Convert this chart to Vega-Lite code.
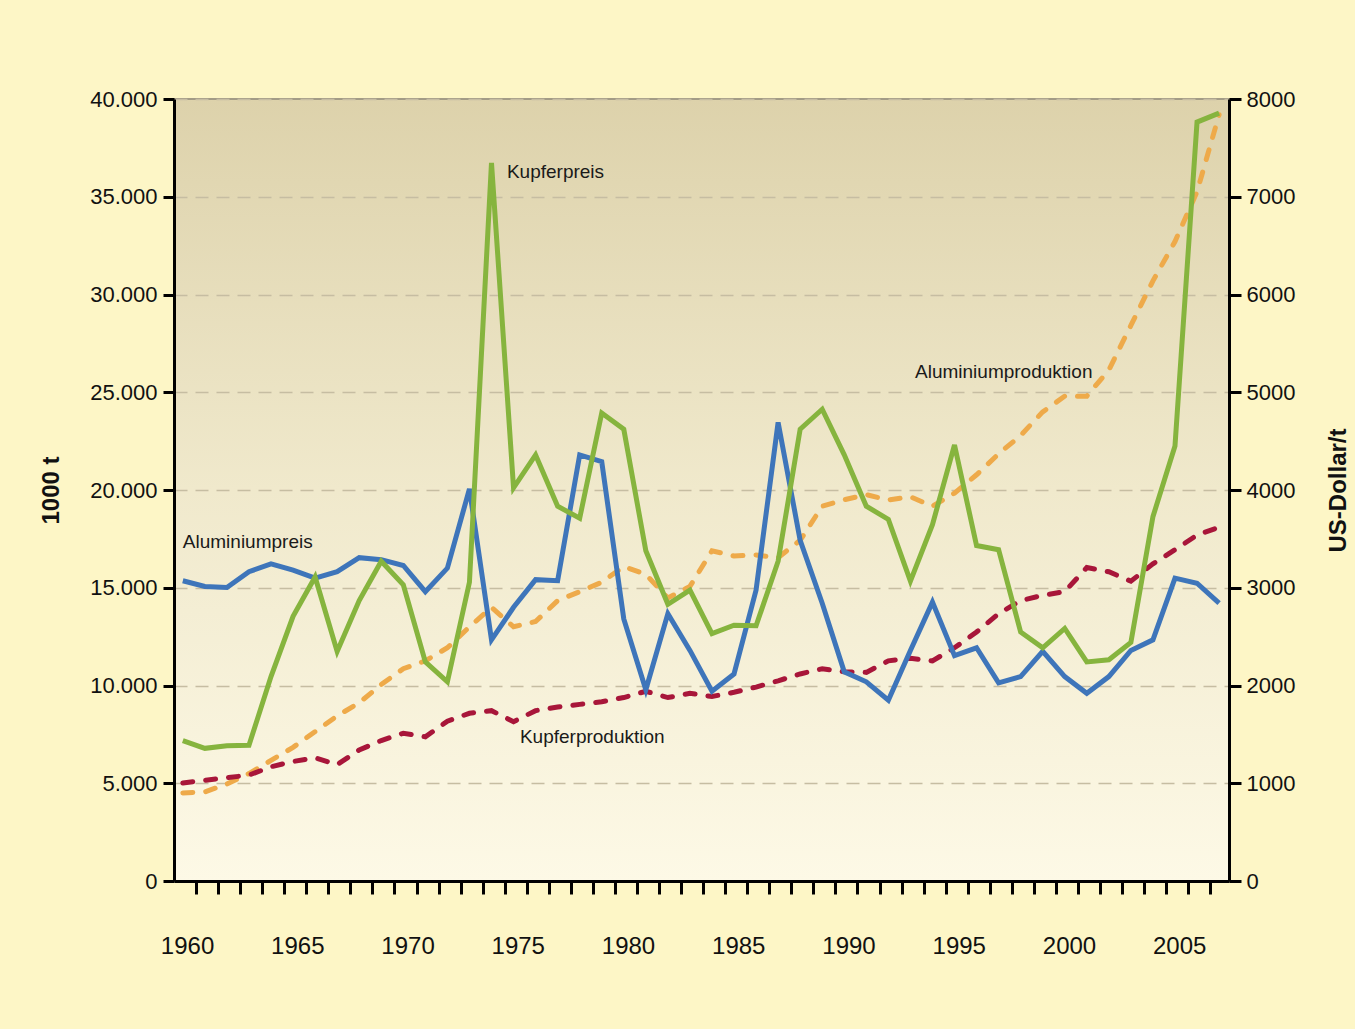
{
  "$schema": "https://vega.github.io/schema/vega-lite/v6.json",
  "width": 1055,
  "height": 782,
  "autosize": {"type": "none"},
  "padding": {"left": 174, "top": 99, "right": 126, "bottom": 148},
  "background": "#fdf6c6",
  "config": {
    "font": "Liberation Sans",
    "view": {
      "fill": {"gradient": "linear", "x1": 0, "y1": 0, "x2": 0, "y2": 1,
        "stops": [{"offset": 0, "color": "#ddd2ab"}, {"offset": 0.5, "color": "#f0e9cc"}, {"offset": 1, "color": "#fdf9e6"}]},
      "stroke": "#a39c86",
      "strokeWidth": 2
    },
    "axis": {
      "domainColor": "#000000",
      "domainWidth": 3,
      "tickColor": "#000000",
      "tickWidth": 3,
      "labelColor": "#111111",
      "titleColor": "#111111",
      "labelFontSize": 22,
      "titleFontSize": 24,
      "titleFontWeight": "bold"
    }
  },
  "data": {"values": [
    {"year": 1960, "ap": 3072, "kp": 1437, "aprod": 4504, "kprod": 5013},
    {"year": 1961, "ap": 3013, "kp": 1357, "aprod": 4558, "kprod": 5148},
    {"year": 1962, "ap": 3003, "kp": 1383, "aprod": 4960, "kprod": 5282},
    {"year": 1963, "ap": 3164, "kp": 1389, "aprod": 5496, "kprod": 5416},
    {"year": 1964, "ap": 3244, "kp": 2091, "aprod": 6166, "kprod": 5845},
    {"year": 1965, "ap": 3180, "kp": 2708, "aprod": 6837, "kprod": 6113},
    {"year": 1966, "ap": 3099, "kp": 3110, "aprod": 7641, "kprod": 6300},
    {"year": 1967, "ap": 3164, "kp": 2349, "aprod": 8445, "kprod": 5952},
    {"year": 1968, "ap": 3308, "kp": 2869, "aprod": 9115, "kprod": 6703},
    {"year": 1969, "ap": 3287, "kp": 3271, "aprod": 10054, "kprod": 7185},
    {"year": 1970, "ap": 3228, "kp": 3030, "aprod": 10858, "kprod": 7560},
    {"year": 1971, "ap": 2960, "kp": 2241, "aprod": 11260, "kprod": 7373},
    {"year": 1972, "ap": 3201, "kp": 2038, "aprod": 11930, "kprod": 8177},
    {"year": 1973, "ap": 4011, "kp": 3056, "aprod": 13003, "kprod": 8579},
    {"year": 1974, "ap": 2467, "kp": 7346, "aprod": 13995, "kprod": 8713},
    {"year": 1975, "ap": 2800, "kp": 4022, "aprod": 13003, "kprod": 8150},
    {"year": 1976, "ap": 3083, "kp": 4359, "aprod": 13271, "kprod": 8713},
    {"year": 1977, "ap": 3072, "kp": 3834, "aprod": 14343, "kprod": 8901},
    {"year": 1978, "ap": 4359, "kp": 3711, "aprod": 14799, "kprod": 9035},
    {"year": 1979, "ap": 4290, "kp": 4788, "aprod": 15282, "kprod": 9169},
    {"year": 1980, "ap": 2681, "kp": 4622, "aprod": 16086, "kprod": 9384},
    {"year": 1981, "ap": 1957, "kp": 3378, "aprod": 15684, "kprod": 9705},
    {"year": 1982, "ap": 2735, "kp": 2831, "aprod": 14477, "kprod": 9384},
    {"year": 1983, "ap": 2359, "kp": 2976, "aprod": 15067, "kprod": 9598},
    {"year": 1984, "ap": 1941, "kp": 2531, "aprod": 16890, "kprod": 9437},
    {"year": 1985, "ap": 2118, "kp": 2617, "aprod": 16622, "kprod": 9652},
    {"year": 1986, "ap": 2976, "kp": 2611, "aprod": 16676, "kprod": 9920},
    {"year": 1987, "ap": 4692, "kp": 3271, "aprod": 16542, "kprod": 10241},
    {"year": 1988, "ap": 3485, "kp": 4622, "aprod": 17427, "kprod": 10590},
    {"year": 1989, "ap": 2842, "kp": 4826, "aprod": 19169, "kprod": 10858},
    {"year": 1990, "ap": 2140, "kp": 4360, "aprod": 19500, "kprod": 10700},
    {"year": 1991, "ap": 2038, "kp": 3834, "aprod": 19759, "kprod": 10670},
    {"year": 1992, "ap": 1850, "kp": 3700, "aprod": 19491, "kprod": 11260},
    {"year": 1993, "ap": 2359, "kp": 3067, "aprod": 19652, "kprod": 11394},
    {"year": 1994, "ap": 2853, "kp": 3646, "aprod": 19169, "kprod": 11260},
    {"year": 1995, "ap": 2306, "kp": 4461, "aprod": 19839, "kprod": 11930},
    {"year": 1996, "ap": 2386, "kp": 3432, "aprod": 20778, "kprod": 12735},
    {"year": 1997, "ap": 2027, "kp": 3389, "aprod": 21850, "kprod": 13673},
    {"year": 1998, "ap": 2091, "kp": 2547, "aprod": 22789, "kprod": 14343},
    {"year": 1999, "ap": 2349, "kp": 2386, "aprod": 23995, "kprod": 14611},
    {"year": 2000, "ap": 2091, "kp": 2584, "aprod": 24799, "kprod": 14799},
    {"year": 2001, "ap": 1920, "kp": 2241, "aprod": 24799, "kprod": 16032},
    {"year": 2002, "ap": 2091, "kp": 2263, "aprod": 26140, "kprod": 15818},
    {"year": 2003, "ap": 2359, "kp": 2440, "aprod": 28419, "kprod": 15335},
    {"year": 2004, "ap": 2467, "kp": 3727, "aprod": 30697, "kprod": 16220},
    {"year": 2005, "ap": 3099, "kp": 4450, "aprod": 32708, "kprod": 16944},
    {"year": 2006, "ap": 3046, "kp": 7764, "aprod": 35255, "kprod": 17695},
    {"year": 2007, "ap": 2842, "kp": 7855, "aprod": 39196, "kprod": 18097}
  ]},
  "resolve": {"scale": {"y": "independent"}},
  "layer": [
    {
      "encoding": {
        "x": {"field": "year", "type": "quantitative",
          "scale": {"domain": [1959.6, 2007.45], "nice": false, "zero": false},
          "axis": {"title": null, "grid": false, "tickSize": 13, "labelPadding": 40, "labelFontSize": 24,
            "labelFlush": false, "labelOverlap": false, "labelBound": false, "labelOffset": -9,
            "values": [1960.6,1961.6,1962.6,1963.6,1964.6,1965.6,1966.6,1967.6,1968.6,1969.6,1970.6,1971.6,1972.6,1973.6,1974.6,1975.6,1976.6,1977.6,1978.6,1979.6,1980.6,1981.6,1982.6,1983.6,1984.6,1985.6,1986.6,1987.6,1988.6,1989.6,1990.6,1991.6,1992.6,1993.6,1994.6,1995.6,1996.6,1997.6,1998.6,1999.6,2000.6,2001.6,2002.6,2003.6,2004.6,2005.6,2006.6],
            "labelExpr": "round(datum.value - 0.6) % 5 == 0 ? toString(round(datum.value - 0.6)) : ''"}},
        "y": {"field": "value", "type": "quantitative",
          "scale": {"domain": [0, 40000], "nice": false},
          "axis": {"title": "1000 t", "orient": "left", "values": [0,5000,10000,15000,20000,25000,30000,35000,40000],
            "labelExpr": "replace(format(datum.value, ','), ',', '.')",
            "tickSize": 11, "labelPadding": 6, "titlePadding": 26,
            "grid": true, "gridColor": "#c6bda2", "gridDash": [13, 8], "gridWidth": 1.5}},
        "color": {"field": "series", "type": "nominal", "legend": null,
          "scale": {"domain": ["aprod", "kprod", "ap", "kp"], "range": ["#eeaa4a", "#a8163a", "#3e75ba", "#86b43e"]}}
      },
      "layer": [
        {
          "transform": [{"fold": ["aprod", "kprod"], "as": ["series", "value"]}],
          "mark": {"type": "line", "strokeWidth": 5, "strokeDash": [10, 13], "strokeCap": "round"}
        },
        {
          "data": {"values": [
            {"year": 1993.21, "value": 26035, "label": "Aluminiumproduktion"},
            {"year": 1975.29, "value": 7366, "label": "Kupferproduktion"}
          ]},
          "mark": {"type": "text", "align": "left", "baseline": "middle", "fontSize": 19, "color": "#1a1a1a"},
          "encoding": {"text": {"field": "label"}, "color": {"value": "#1a1a1a"}}
        }
      ]
    },
    {
      "encoding": {
        "x": {"field": "year", "type": "quantitative",
          "scale": {"domain": [1959.6, 2007.45], "nice": false, "zero": false},
          "axis": {"title": null, "grid": false, "tickSize": 13, "labelPadding": 40, "labelFontSize": 24,
            "labelFlush": false, "labelOverlap": false, "labelBound": false, "labelOffset": -9,
            "values": [1960.6,1961.6,1962.6,1963.6,1964.6,1965.6,1966.6,1967.6,1968.6,1969.6,1970.6,1971.6,1972.6,1973.6,1974.6,1975.6,1976.6,1977.6,1978.6,1979.6,1980.6,1981.6,1982.6,1983.6,1984.6,1985.6,1986.6,1987.6,1988.6,1989.6,1990.6,1991.6,1992.6,1993.6,1994.6,1995.6,1996.6,1997.6,1998.6,1999.6,2000.6,2001.6,2002.6,2003.6,2004.6,2005.6,2006.6],
            "labelExpr": "round(datum.value - 0.6) % 5 == 0 ? toString(round(datum.value - 0.6)) : ''"}},
        "y": {"field": "value", "type": "quantitative",
          "scale": {"domain": [0, 8000], "nice": false},
          "axis": {"title": "US-Dollar/t", "orient": "right", "values": [0,1000,2000,3000,4000,5000,6000,7000,8000],
            "format": "d", "tickSize": 12, "labelPadding": 5, "titlePadding": 56, "titleAngle": 270, "grid": false}},
        "color": {"field": "series", "type": "nominal", "legend": null,
          "scale": {"domain": ["aprod", "kprod", "ap", "kp"], "range": ["#eeaa4a", "#a8163a", "#3e75ba", "#86b43e"]}}
      },
      "layer": [
        {
          "transform": [{"fold": ["ap", "kp"], "as": ["series", "value"]}],
          "mark": {"type": "line", "strokeWidth": 5}
        },
        {
          "data": {"values": [
            {"year": 1960.0, "value": 3468, "label": "Aluminiumpreis"},
            {"year": 1974.7, "value": 7253, "label": "Kupferpreis"}
          ]},
          "mark": {"type": "text", "align": "left", "baseline": "middle", "fontSize": 19, "color": "#1a1a1a"},
          "encoding": {"text": {"field": "label"}, "color": {"value": "#1a1a1a"}}
        }
      ]
    }
  ]
}
